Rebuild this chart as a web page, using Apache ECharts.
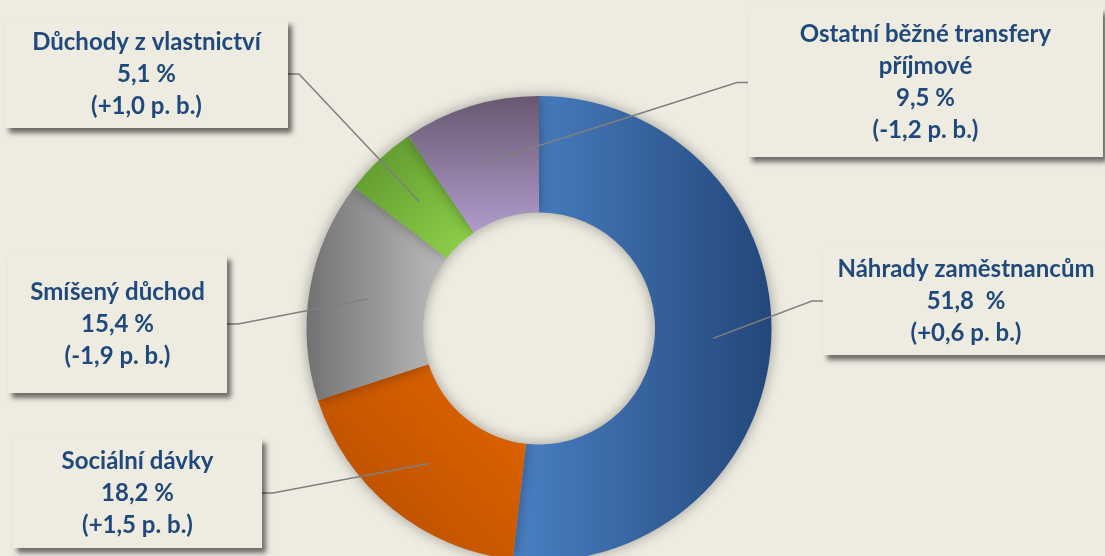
<!DOCTYPE html>
<html>
<head>
<meta charset="utf-8">
<title>Struktura prvotních důchodů</title>
<script src="https://cdn.jsdelivr.net/npm/echarts@6/dist/echarts.min.js"></script>
<style>
  html, body { margin: 0; padding: 0; background: #EEECE1; }
  #chart { width: 1105px; height: 556px; }
</style>
</head>
<body>
<div id="chart"></div>
<script>
// kategorie a hodnoty (podíl v %, změna v p. b.)
const categories = [
  'Náhrady zaměstnancům',
  'Sociální dávky',
  'Smíšený důchod',
  'Důchody z vlastnictví',
  'Ostatní běžné transfery\npříjmové',
];
const shares = [51.8, 18.2, 15.4, 5.1, 9.5];
const changes = ['+0,6', '+1,5', '-1,9', '+1,0', '-1,2'];
const pctSuffix = ['  %', ' %', ' %', ' %', ' %'];

// rozmístění popisků [left, top, width, height]
const boxes = [
  [823, 247, 286, 108],
  [13, 438, 249, 110],
  [8, 255, 219, 138],
  [5, 20, 283, 108],
  [748, 8, 355, 149],
];

const CX = 539, CY = 328.5; // střed prstence
const R0 = 116, R1 = 232.5; // vnitřní a vnější poloměr
const LINE_H = 32;

const grad = (x1, y1, x2, y2, c1, c2) =>
  new echarts.graphic.LinearGradient(x1, y1, x2, y2, [
    { offset: 0, color: c1 },
    { offset: 1, color: c2 },
  ]);
const fills = [
  grad(0, 0, 1, 0, '#4A80C4', '#23477A'),
  grad(1, 0, 0, 1, '#E36500', '#B34D00'),
  grad(0, 0, 1, 0, '#727272', '#BCBCBC'),
  grad(0, 0, 1, 1, '#5A912C', '#90D44A'),
  grad(0, 0, 0, 1, '#67576F', '#B09CCC'),
];

const total = shares.reduce((a, b) => a + b, 0);
const fmt = (v) => v.toFixed(1).replace('.', ',');

// prstenec (výseče)
const ringData = categories.map((name, i) => ({
  name: name,
  value: shares[i],
  itemStyle: { color: fills[i] },
}));

// průhledná kopie nahoře jen kvůli popiskům a vodicím čarám
const labelData = categories.map((name, i) => {
  const lines = name.split('\n').length + 2;
  return {
    name: name,
    value: shares[i],
    label: {
      width: boxes[i][2],
      padding: [(boxes[i][3] - lines * LINE_H) / 2, 0],
    },
  };
});

const chart = echarts.init(document.getElementById('chart'));
chart.setOption({
  backgroundColor: '#EEECE1',
  animation: false,
  series: [
    {
      type: 'pie',
      z: 2,
      center: [CX, CY],
      radius: [R0, R1],
      startAngle: 90,
      clockwise: true,
      silent: true,
      data: ringData,
      itemStyle: {
        shadowBlur: 14,
        shadowColor: 'rgba(0,0,0,0.35)',
      },
      emphasis: { disabled: true },
      label: { show: false },
      labelLine: { show: false },
    },
    {
      type: 'pie',
      z: 3,
      center: [CX, CY],
      radius: [R0, R1],
      startAngle: 90,
      clockwise: true,
      avoidLabelOverlap: false,
      silent: true,
      data: labelData,
      itemStyle: { color: 'rgba(0,0,0,0)' },
      emphasis: { disabled: true },
      label: {
        show: true,
        position: 'outside',
        formatter: (p) =>
          p.name + '\n' + fmt(p.value) + pctSuffix[p.dataIndex] +
          '\n(' + changes[p.dataIndex] + ' p. b.)',
        color: '#1F497D',
        fontFamily: 'Lato',
        fontWeight: 'bold',
        fontSize: 24,
        lineHeight: LINE_H,
        align: 'center',
        backgroundColor: '#EEECE1',
        shadowColor: 'rgba(0,0,0,0.55)',
        shadowBlur: 5,
        shadowOffsetX: 4,
        shadowOffsetY: 5,
      },
      labelLine: {
        show: true,
        smooth: false,
        lineStyle: { color: '#7F7F7F', width: 1.5 },
      },
      labelLayout: (params) => {
        const i = params.dataIndex;
        // úhel středu výseče a bod v polovině šířky prstence
        let before = 0;
        for (let k = 0; k < i; k++) before += shares[k];
        const ang = ((before + shares[i] / 2) / total) * Math.PI * 2;
        const rMid = (R0 + R1) / 2;
        const ax = CX + rMid * Math.sin(ang);
        const ay = CY - rMid * Math.cos(ang);
        const b = boxes[i];
        const bx = b[0] + b[2] / 2;
        const by = b[1] + b[3] / 2;
        const onRight = bx > CX;
        const edge = onRight ? b[0] : b[0] + b[2];
        const knee = onRight ? edge - 11 : edge + 11;
        return {
          x: bx,
          y: by,
          align: 'center',
          verticalAlign: 'middle',
          labelLinePoints: [[ax, ay], [knee, by], [edge, by]],
        };
      },
    },
  ],
});
</script>
</body>
</html>
